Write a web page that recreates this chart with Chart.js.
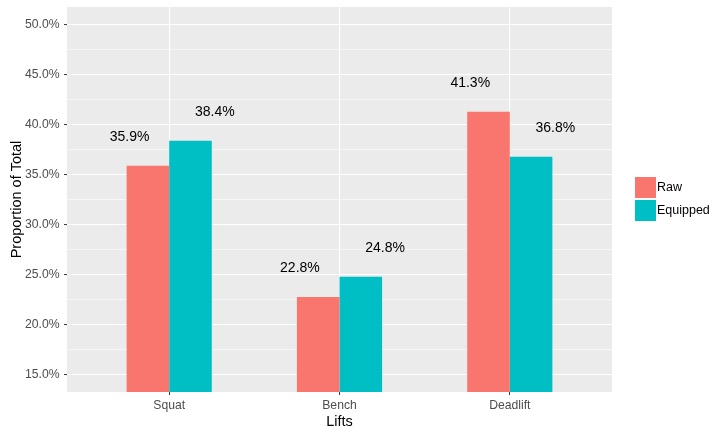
<!DOCTYPE html>
<html>
<head>
<meta charset="utf-8">
<script src="https://cdn.jsdelivr.net/npm/chart.js@4.4.1/dist/chart.umd.min.js"></script>
<style>
  html, body { margin: 0; padding: 0; background: #fff; }
  #wrap { width: 725px; height: 438px; position: relative; }
</style>
</head>
<body>
<div id="wrap"><canvas id="grafico"></canvas></div>
<script>
// dados
const lifts = ['Squat', 'Bench', 'Deadlift'];
const rawShare = [35.9, 22.8, 41.3];
const equippedShare = [38.4, 24.8, 36.8];
const yTickValues = [15, 20, 25, 30, 35, 40, 45, 50];
const seriesNames = ['Raw', 'Equipped'];
const seriesColors = ['#F8766D', '#00BFC4'];

const FONT = '"Liberation Sans", Arial, sans-serif';

// linhas secundárias a meio entre as principais
const yMinor = yTickValues.slice(0, -1).map(v => v + 2.5);
const isMajor = v => yTickValues.includes(v);

// fundo cinzento do painel
const panelBg = {
  id: 'panelBg',
  beforeDraw(chart) {
    const { ctx, chartArea: a } = chart;
    ctx.save();
    ctx.fillStyle = '#EBEBEB';
    ctx.fillRect(a.left, a.top, a.right - a.left, a.bottom - a.top);
    ctx.restore();
  }
};

// rótulos de percentagem por cima das barras
const barLabels = {
  id: 'barLabels',
  afterDatasetsDraw(chart) {
    const { ctx, scales: { x, y } } = chart;
    ctx.save();
    ctx.font = '14px ' + FONT;
    ctx.fillStyle = '#000';
    ctx.textAlign = 'center';
    ctx.textBaseline = 'middle';
    chart.data.datasets.forEach((ds, i) => {
      const dodge = i === 0 ? -0.25 : 0.25;
      ds.data.forEach(p => {
        const px = x.getPixelForValue(p.x + dodge) + 3;
        const py = y.getPixelForValue(p.y) - 28.5;
        ctx.fillText(p.y.toFixed(1) + '%', px, py);
      });
    });
    ctx.restore();
  }
};

// legenda à direita, estilo ggplot
const sideLegend = {
  id: 'sideLegend',
  afterDraw(chart) {
    const { ctx } = chart;
    ctx.save();
    ctx.font = '12.5px ' + FONT;
    ctx.textBaseline = 'middle';
    ctx.textAlign = 'left';
    chart.data.datasets.forEach((ds, i) => {
      const top = 177 + i * 23;
      ctx.fillStyle = ds.backgroundColor;
      ctx.fillRect(635, top, 21, 21);
      ctx.fillStyle = '#000';
      ctx.fillText(ds.label, 657, top + 11);
    });
    ctx.restore();
  }
};

const toPoints = arr => arr.map((v, i) => ({ x: i + 1, y: v }));

new Chart(document.getElementById('grafico'), {
  type: 'bar',
  data: {
    datasets: [
      { label: seriesNames[0], data: toPoints(rawShare), backgroundColor: seriesColors[0] },
      { label: seriesNames[1], data: toPoints(equippedShare), backgroundColor: seriesColors[1] }
    ]
  },
  options: {
    responsive: true,
    maintainAspectRatio: false,
    animation: false,
    layout: { padding: { top: 7, right: 113, left: 0, bottom: 0 } },
    datasets: { bar: { categoryPercentage: 0.5, barPercentage: 1 } },
    plugins: {
      legend: { display: false },
      tooltip: { enabled: false }
    },
    scales: {
      x: {
        type: 'linear',
        min: 0.4,
        max: 3.6,
        offset: false,
        afterBuildTicks: s => { s.ticks = lifts.map((_, i) => ({ value: i + 1 })); },
        afterFit: s => { s.height = 46; s.paddingLeft = 0; s.paddingRight = 0; },
        border: { display: false },
        grid: { offset: false, color: '#FFFFFF', lineWidth: 1.1, tickColor: '#333333', tickLength: 3, tickWidth: 1 },
        ticks: {
          padding: 3.4,
          color: '#4D4D4D',
          font: { family: FONT, size: 12.2 },
          callback: v => lifts[v - 1]
        },
        title: {
          display: true,
          text: 'Lifts',
          color: '#000',
          font: { family: FONT, size: 14.5 },
          padding: { top: 0, bottom: 7.3 }
        }
      },
      y: {
        min: 13.3,
        max: 51.75,
        afterBuildTicks: s => {
          s.ticks = yTickValues.concat(yMinor).sort((a, b) => a - b).map(v => ({ value: v }));
        },
        afterFit: s => { s.width = 67; s.paddingTop = 0; s.paddingBottom = 0; },
        border: { display: false },
        grid: {
          color: '#FFFFFF',
          lineWidth: c => (c.tick && isMajor(c.tick.value) ? 1.1 : 0.55),
          tickColor: c => (c.tick && isMajor(c.tick.value) ? '#333333' : 'rgba(0,0,0,0)'),
          tickLength: 3,
          tickWidth: 1
        },
        ticks: {
          autoSkip: false,
          padding: 4.5,
          color: '#4D4D4D',
          font: { family: FONT, size: 12.2 },
          callback: v => (isMajor(v) ? v.toFixed(1) + '%' : '')
        },
        title: {
          display: true,
          text: 'Proportion of Total',
          color: '#000',
          font: { family: FONT, size: 14.5 },
          padding: { top: 8.5, bottom: 0 }
        }
      }
    }
  },
  plugins: [panelBg, barLabels, sideLegend]
});
</script>
</body>
</html>
